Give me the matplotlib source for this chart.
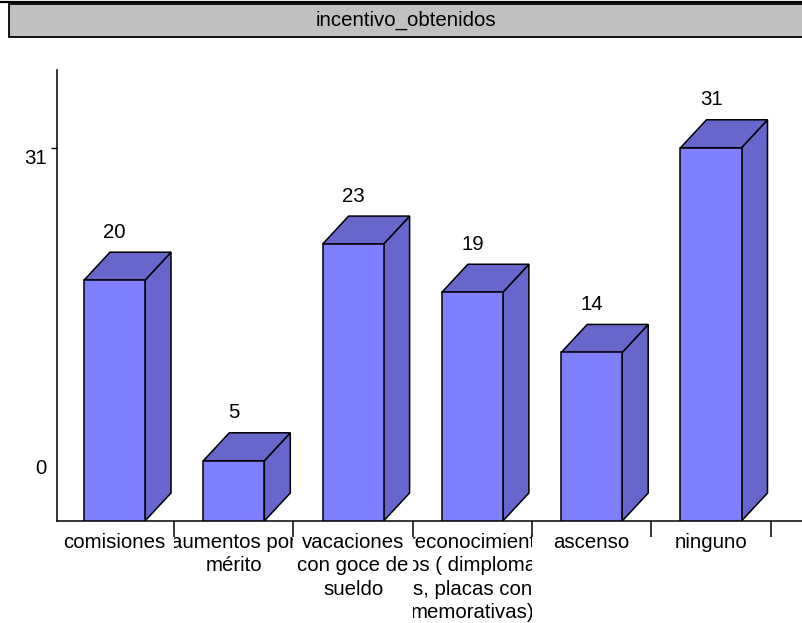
import matplotlib
matplotlib.use("Agg")
import matplotlib.pyplot as plt
from matplotlib.patches import Polygon, Rectangle
from matplotlib.lines import Line2D
from matplotlib.transforms import Bbox

plt.rcParams["font.family"] = ["Liberation Sans", "DejaVu Sans"]

# data
title = "incentivo_obtenidos"
categories = [
    "comisiones",
    "aumentos por\nmérito",
    "vacaciones\ncon goce de\nsueldo",
    "reconocimient\nos ( dimploma\ns, placas con\nmemorativas)",
    "ascenso",
    "ninguno",
]
counts = [20, 5, 23, 19, 14, 31]
ytick_values = [0, 31]

W, H = 803, 623
FS = 14.7
front_color = "#8080FF"
dark_color = "#6666CC"

fig = plt.figure(figsize=(W / 100, H / 100), dpi=100)


def fx(px):
    return px / W


def fy(py):
    return 1 - py / H


# title box
fig.add_artist(Line2D([0, 1], [fy(1.8), fy(1.8)], color="black", lw=1.6))
fig.add_artist(Rectangle((fx(9.5), fy(37)), fx(805) - fx(9.5), fy(3.8) - fy(37),
                         facecolor="#C0C0C0", edgecolor="black", lw=1.3))
fig.text(fx(406), fy(20.5), title, ha="center", va="center", fontsize=FS)

# axes area
left, right, top, base = 57, 803, 70, 521
ax = fig.add_axes([fx(left), fy(base), fx(right) - fx(left), fy(top) - fy(base)])

unit = 12.04   # px per count
step = 119.3   # px per category
c0 = 114.5     # px of first category centre
ax.set_xlim((left - c0) / step, (right - c0) / step)
ax.set_ylim(0, (base - top) / unit)

bw = 61 / step
dx = 26 / step
dy = 28 / unit

for i, v in enumerate(counts):
    x0, x1 = i - bw / 2, i + bw / 2
    front = [(x0, 0), (x1, 0), (x1, v), (x0, v)]
    topf = [(x0, v), (x1, v), (x1 + dx, v + dy), (x0 + dx, v + dy)]
    side = [(x1, 0), (x1 + dx, dy), (x1 + dx, v + dy), (x1, v)]
    for pts, col in ((side, dark_color), (topf, dark_color), (front, front_color)):
        ax.add_patch(Polygon(pts, closed=True, facecolor=col, edgecolor="black",
                             lw=1.1, joinstyle="miter", zorder=3))
    ax.text(i, v + dy + 14.5 / unit, str(v), ha="center", va="baseline", fontsize=FS)

for s in ("top", "right"):
    ax.spines[s].set_visible(False)
for s in ("left", "bottom"):
    ax.spines[s].set_linewidth(1.1)

# y axis: tick mark at 31, labels placed like the original
ax.set_yticks([31])
ax.set_yticklabels([""])
ax.tick_params(axis="y", direction="out", length=4.5, width=1)
ylab_pos = {0: 3.9, 31: 29.65}
for v in ytick_values:
    ax.text(-10.5 / (right - left), ylab_pos[v], str(v), transform=ax.get_yaxis_transform(),
            ha="right", va="baseline", fontsize=FS)

# x axis: separators between categories, labels clipped to their column
ax.set_xticks([i + 0.5 for i in range(len(categories))])
ax.set_xticklabels([])
ax.tick_params(axis="x", which="major", direction="out", length=11.5, width=1.1)
ax.set_xticks(range(len(categories)), minor=True)
ax.set_xticklabels(categories, minor=True, fontsize=FS, linespacing=1.3)
ax.tick_params(axis="x", which="minor", length=0, pad=8.5)

fig.canvas.draw()
for i, lab in enumerate(ax.get_xticklabels(minor=True)):
    x0 = ax.transData.transform((i - 0.5, 0))[0]
    x1 = ax.transData.transform((i + 0.5, 0))[0]
    lab.set_clip_box(Bbox([[x0, 0], [x1, H]]))
    lab.set_clip_on(True)

fig.savefig("out.png", dpi=100)
